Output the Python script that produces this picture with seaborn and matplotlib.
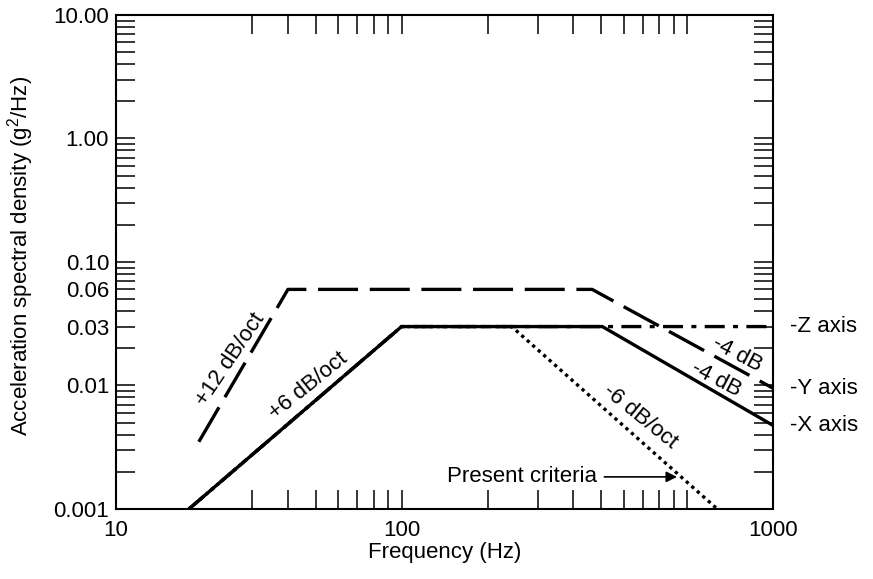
import matplotlib
matplotlib.use("Agg")
import matplotlib.pyplot as plt
import seaborn as sns
import pandas as pd
from matplotlib.ticker import FixedLocator, NullFormatter

# ---- envelope breakpoints: frequency (Hz) vs. PSD (g^2/Hz) ----
x_freq = [18.0, 100.0, 505.0, 2000.0]
x_psd = [0.001, 0.03, 0.03, 0.00475]

y_freq = [19.5, 40.0, 465.0, 2000.0]
y_psd = [0.0035, 0.06, 0.06, 0.0095]

z_freq = [18.0, 100.0, 2000.0]
z_psd = [0.001, 0.03, 0.03]

present_freq = [18.0, 100.0, 243.0, 1276.0]
present_psd = [0.001, 0.03, 0.03, 0.001]

# ---- axis ticks ----
xtick_vals = [10, 100, 2000]
xtick_labels = ["10", "100", "1000"]
xminor_vals = [30, 40, 50, 60, 70, 80, 90, 100,
               200, 300, 400, 500, 600, 700, 800, 900, 1000]
ytick_vals = [0.001, 0.01, 0.03, 0.06, 0.1, 1.0, 10.0]
ytick_labels = ["0.001", "0.01", "0.03", "0.06", "0.10", "1.00", "10.00"]
yminor_vals = [m * 10.0 ** e for e in (-3, -2, -1, 0) for m in range(2, 10)]

sns.set_theme(style="ticks")
plt.rcParams["font.family"] = ["Liberation Sans", "DejaVu Sans"]
plt.rcParams["mathtext.default"] = "regular"
FS = 16

fig = plt.figure(figsize=(8.73, 5.79), dpi=100)
ax = fig.add_axes([0.1329, 0.1209, 0.7526, 0.8532])

def draw(freq, psd, **kw):
    df = pd.DataFrame({"f": freq, "psd": psd})
    sns.lineplot(data=df, x="f", y="psd", ax=ax, estimator=None,
                 sort=False, color="black", **kw)

draw(present_freq, present_psd, lw=2.4, linestyle=(0, (1.0, 1.2)))
draw(x_freq, x_psd, lw=2.4, linestyle="-")
draw(z_freq, z_psd, lw=2.4, linestyle=(0, (6, 2.5, 1.5, 2.5)))
draw(y_freq, y_psd, lw=2.4, linestyle=(0, (12, 3.5)))

ax.set_xscale("log")
ax.set_yscale("log")
ax.set_xlim(10, 2000)
ax.set_ylim(0.001, 10)

ax.xaxis.set_major_locator(FixedLocator(xtick_vals))
ax.set_xticklabels(xtick_labels)
ax.xaxis.set_minor_locator(FixedLocator(xminor_vals))
ax.xaxis.set_minor_formatter(NullFormatter())
ax.yaxis.set_major_locator(FixedLocator(ytick_vals))
ax.set_yticklabels(ytick_labels)
ax.yaxis.set_minor_locator(FixedLocator(yminor_vals))
ax.yaxis.set_minor_formatter(NullFormatter())

ax.tick_params(which="both", direction="in", top=True, right=True,
               length=14, width=1.1, color="black", labelsize=FS,
               labelcolor="black")
ax.tick_params(axis="x", which="both", pad=8)
ax.tick_params(axis="y", which="both", pad=5)
for s in ax.spines.values():
    s.set_linewidth(1.5)
    s.set_color("black")

ax.set_xlabel("Frequency (Hz)", fontsize=FS, color="black")
ax.xaxis.set_label_coords(0.5, -0.066)
ax.set_ylabel("")
fig.text(21 / 873, 1 - 256 / 579, "Acceleration spectral density (g$^2$/Hz)",
         rotation=90, ha="center", va="center", fontsize=FS, color="black")

# slope annotations along the envelope segments
notes = [
    ("+12 dB/oct", 25.1, 0.0161, 56),
    ("+6 dB/oct", 47.0, 0.0099, 39),
    ("-6 dB/oct", 683.0, 0.00556, -39),
    ("-4 dB", 1498.0, 0.0177, -27.5),
    ("-4 dB", 1260.0, 0.0113, -27.5),
]
for txt, fx, fy, rot in notes:
    ax.text(fx, fy, txt, rotation=rot, rotation_mode="anchor",
            ha="center", va="center", fontsize=FS, color="black")

# axis-direction labels at the right-hand ends
for txt, val in [("-Z axis", z_psd[-1]), ("-Y axis", y_psd[-1]), ("-X axis", x_psd[-1])]:
    ax.annotate(txt, xy=(2000, val), xytext=(12, 0), textcoords="offset points",
                ha="left", va="center", fontsize=FS, color="black",
                annotation_clip=False)

ax.text(264, 0.00182, "Present criteria", ha="center", va="center",
        fontsize=FS, color="black")
ax.annotate("", xy=(922, 0.00182), xytext=(513, 0.00182),
            arrowprops=dict(arrowstyle="-|>", lw=1.2, color="black",
                            mutation_scale=16, shrinkA=0, shrinkB=0))

fig.savefig("out.png", dpi=100, facecolor="white")
